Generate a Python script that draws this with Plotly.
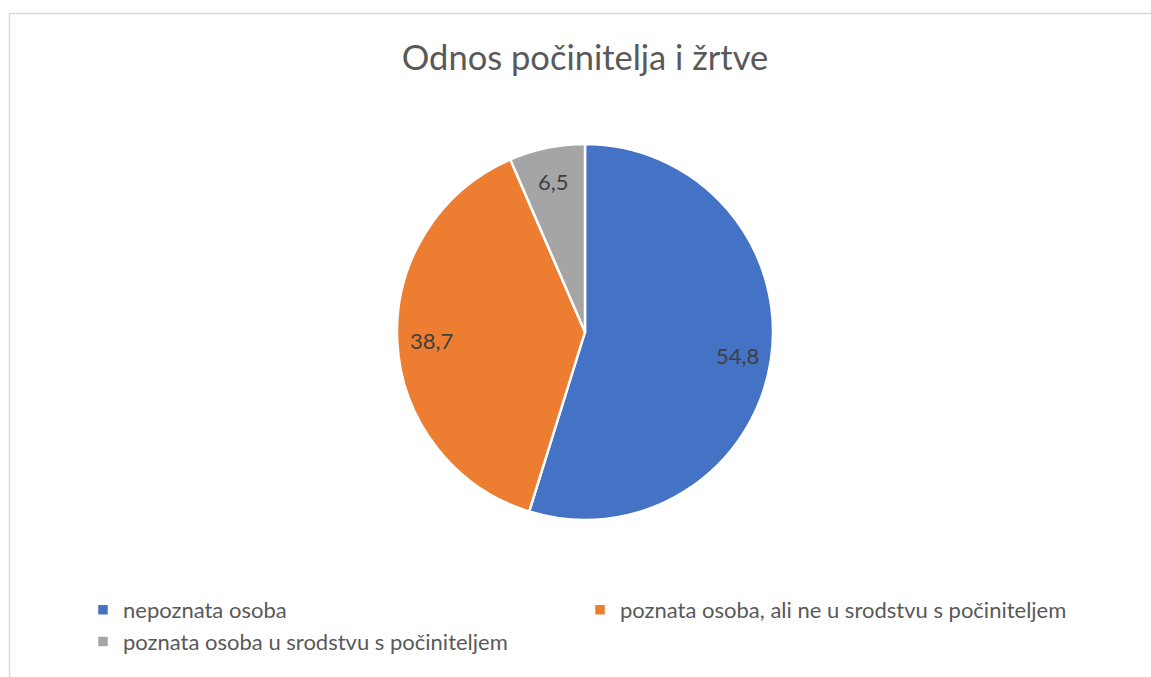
import math
import plotly.graph_objects as go

W, H = 1151, 677

title_text = "Odnos počinitelja i žrtve"
categories = [
    "nepoznata osoba",
    "poznata osoba, ali ne u srodstvu s počiniteljem",
    "poznata osoba u srodstvu s počiniteljem",
]
values = [54.8, 38.7, 6.5]
colors = ["#4472C4", "#ED7D31", "#A5A5A5"]

FONT = "Lato"

# pie geometry in pixels (layout only)
cx, cy, R = 585, 332, 188
LABEL_R = 0.82  # data labels placed at this fraction of the radius ("best fit")

fig = go.Figure(
    go.Pie(
        labels=categories,
        values=values,
        sort=False,
        direction="clockwise",
        rotation=0,
        marker=dict(colors=colors, line=dict(color="white", width=2.5)),
        textinfo="none",
        hoverinfo="label+value",
        domain=dict(
            x=[(cx - R) / W, (cx + R) / W],
            y=[1 - (cy + R) / H, 1 - (cy - R) / H],
        ),
    )
)

# data labels at each slice's bisector, derived from the values
total = sum(values)
cum = 0.0
annotations = []
for v in values:
    mid = (cum + v / 2) / total * 2 * math.pi  # clockwise from 12 o'clock
    cum += v
    px = cx + LABEL_R * R * math.sin(mid)
    py = cy - LABEL_R * R * math.cos(mid)
    annotations.append(
        dict(
            x=px / W,
            y=1 - py / H,
            xref="paper",
            yref="paper",
            text=f"{v:.1f}".replace(".", ","),
            showarrow=False,
            xanchor="center",
            yanchor="middle",
            font=dict(family=FONT, size=22, color="#404040"),
        )
    )

fig.update_layout(
    width=W,
    height=H,
    margin=dict(l=0, r=0, t=0, b=0),
    paper_bgcolor="white",
    plot_bgcolor="white",
    separators=", ",
    font=dict(family=FONT, color="#595959"),
    title=dict(
        text=title_text,
        x=585 / W,
        xanchor="center",
        y=1 - 58 / H,
        yanchor="middle",
        yref="container",
        font=dict(family=FONT, size=34.5, color="#595959"),
    ),
    showlegend=True,
    legend=dict(
        orientation="h",
        x=83 / W,
        xanchor="left",
        y=1 - 589 / H,
        yanchor="top",
        entrywidth=452,
        entrywidthmode="pixels",
        font=dict(family=FONT, size=22, color="#595959"),
        bgcolor="rgba(0,0,0,0)",
    ),
    annotations=annotations,
    shapes=[
        dict(
            type="rect",
            xref="paper",
            yref="paper",
            x0=9.5 / W,
            x1=1.2,
            y0=-0.2,
            y1=1 - 13.5 / H,
            line=dict(color="#D9D9D9", width=1.5),
            fillcolor="rgba(0,0,0,0)",
            layer="below",
        )
    ],
)

fig.write_html(
    "out.html",
    config={"displayModeBar": False},
    post_script="document.body.style.margin='0';",
)
